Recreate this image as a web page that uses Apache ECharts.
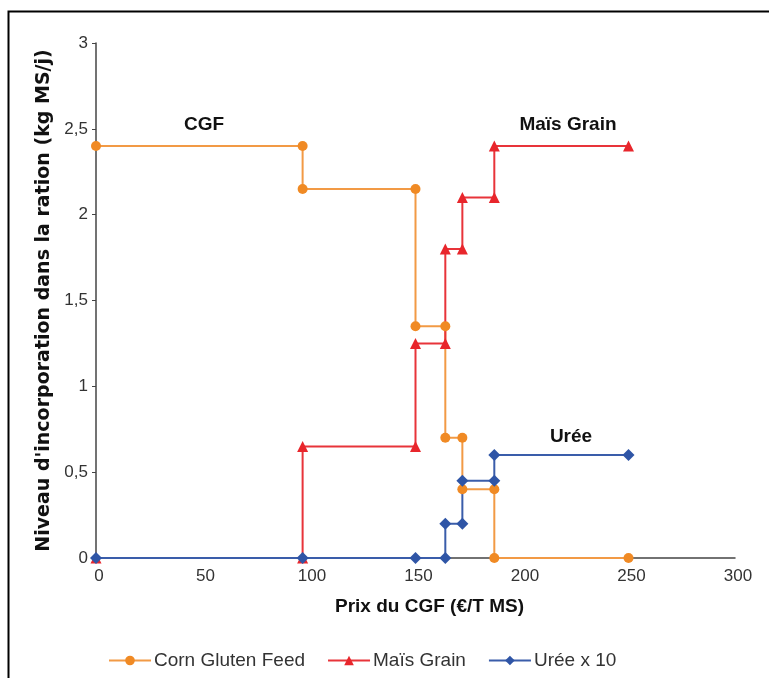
<!DOCTYPE html>
<html>
<head>
<meta charset="utf-8">
<script src="https://cdn.jsdelivr.net/npm/echarts@6/dist/echarts.min.js"></script>
<style>
html,body{margin:0;padding:0;background:#fff;}
#c{width:769px;height:678px;}
</style>
</head>
<body>
<div id="c"></div>
<script>
// Data (x = Prix du CGF €/T MS, y = kg MS/j)
const cgfX = [0, 97, 97, 150, 150, 164, 164, 172, 172, 187, 187, 250];
const cgfY = [2.4, 2.4, 2.15, 2.15, 1.35, 1.35, 0.7, 0.7, 0.4, 0.4, 0, 0];
const maisX = [0, 97, 97, 150, 150, 164, 164, 172, 172, 187, 187, 250];
const maisY = [0, 0, 0.65, 0.65, 1.25, 1.25, 1.8, 1.8, 2.1, 2.1, 2.4, 2.4];
const ureeX = [0, 97, 150, 164, 164, 172, 172, 187, 187, 250];
const ureeY = [0, 0, 0, 0, 0.2, 0.2, 0.45, 0.45, 0.6, 0.6];
const seriesNames = ['Corn Gluten Feed', 'Maïs Grain', 'Urée x 10'];
const xTicks = [0, 50, 100, 150, 200, 250, 300];
const yTicks = [0, 0.5, 1, 1.5, 2, 2.5, 3];
const annotations = ['CGF', 'Maïs Grain', 'Urée'];

const zip = (xs, ys) => xs.map((x, i) => [x, ys[i]]);
const font = 'Liberation Sans, Arial, sans-serif';

const chart = echarts.init(document.getElementById('c'));
chart.setOption({
  animation: false,
  backgroundColor: '#fff',
  grid: { left: 96, right: 34, top: 43, bottom: 120, containLabel: false },
  xAxis: {
    type: 'value', min: xTicks[0], max: xTicks[xTicks.length - 1], interval: 50,
    name: 'Prix du CGF (€/T MS)', nameLocation: 'middle', nameGap: 39,
    nameTextStyle: { fontFamily: font, fontWeight: 'bold', fontSize: 19, color: '#111', padding: [0, 0, 0, 28] },
    axisLine: { show: true, lineStyle: { color: '#444', width: 1.5 } },
    axisTick: { show: false },
    splitLine: { show: false },
    axisLabel: { fontFamily: font, fontSize: 17, color: '#333', margin: 10, padding: [0, 0, 0, 6] }
  },
  yAxis: {
    type: 'value', min: yTicks[0], max: yTicks[yTicks.length - 1], interval: 0.5,
    name: "Niveau d'incorporation dans la ration (kg MS/j)", nameLocation: 'middle', nameGap: 42,
    nameTextStyle: { fontFamily: 'DejaVu Sans, sans-serif', fontWeight: 'bold', fontSize: 19, color: '#111' },
    axisLine: { show: true, lineStyle: { color: '#444', width: 1.5 } },
    axisTick: { show: true, length: 4, lineStyle: { color: '#444' } },
    splitLine: { show: false },
    axisLabel: { fontFamily: font, fontSize: 17, color: '#333', margin: 8,
      formatter: v => String(v).replace('.', ',') }
  },
  legend: {
    left: 103, top: 646, itemGap: 22, itemWidth: 42, itemHeight: 12,
    textStyle: { fontFamily: font, fontSize: 19, color: '#333', padding: [0, 0, 0, -2] },
    data: seriesNames
  },
  series: [
    { name: seriesNames[0], type: 'line', data: zip(cgfX, cgfY),
      symbol: 'circle', symbolSize: 10,
      itemStyle: { color: '#F08A24' }, lineStyle: { color: '#F29A45', width: 2 } },
    { name: seriesNames[1], type: 'line', data: zip(maisX, maisY),
      symbol: 'triangle', symbolSize: 11,
      itemStyle: { color: '#E8262C' }, lineStyle: { color: '#E8343A', width: 2 } },
    { name: seriesNames[2], type: 'line', data: zip(ureeX, ureeY),
      symbol: 'diamond', symbolSize: 12,
      itemStyle: { color: '#2F55A6' }, lineStyle: { color: '#3A5DAA', width: 2 } }
  ],
  graphic: [
    { type: 'rect', left: 6, top: 9, shape: { width: 800, height: 700 },
      style: { fill: 'none', stroke: '#000', lineWidth: 2 }, silent: true },
    { type: 'text', x: 204, y: 125, style: { text: annotations[0], font: 'bold 19px ' + font, fill: '#111', textAlign: 'center', textVerticalAlign: 'middle' } },
    { type: 'text', x: 568, y: 125, style: { text: annotations[1], font: 'bold 19px ' + font, fill: '#111', textAlign: 'center', textVerticalAlign: 'middle' } },
    { type: 'text', x: 571, y: 437, style: { text: annotations[2], font: 'bold 19px ' + font, fill: '#111', textAlign: 'center', textVerticalAlign: 'middle' } }
  ]
});
</script>
</body>
</html>
